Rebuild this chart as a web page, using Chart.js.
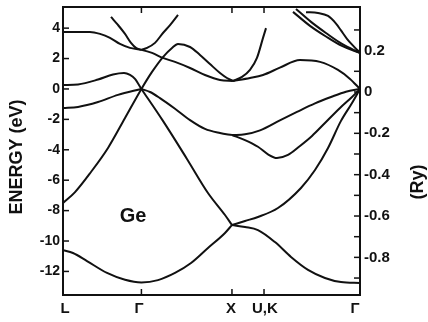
<!DOCTYPE html>
<html><head><meta charset="utf-8">
<script src="https://cdn.jsdelivr.net/npm/chart.js@4.4.0/dist/chart.umd.min.js"></script>
<style>html,body{margin:0;padding:0;background:#fff;}canvas{display:block;}</style>
</head><body>
<canvas id="c" width="428" height="322"></canvas>
<script>
// k-path (symmetry points) and labels
const kPoints = [0, 0.866, 1.866, 2.22, 3.28];
const kLabels = ['L', 'Γ', 'X', 'U,K', 'Γ'];
const kLabelPos = [0.022, 0.84, 1.855, 2.23, 3.225];
const eVTicks = [-12, -10, -8, -6, -4, -2, 0, 2, 4];
const ryLabelTicks = [-0.8, -0.6, -0.4, -0.2, 0, 0.2];
const ryMinorTicks = [-0.9, -0.7, -0.5, -0.3, -0.1, 0.1, 0.3];
const materialLabel = 'Ge';
const materialLabelPos = [0.773, -8.36];

// bands: [k, energy eV]
const bandLowLGX = [[0,-10.6],[0.110,-10.79],[0.265,-11.32],[0.486,-12.1],[0.685,-12.55],[0.866,-12.72],[1.049,-12.57],[1.237,-12.1],[1.414,-11.45],[1.601,-10.46],[1.789,-9.47],[1.866,-8.95]];
const bandLowXG = [[1.866,-8.95],[2.010,-9.08],[2.153,-9.28],[2.341,-10.07],[2.518,-11.05],[2.706,-11.9],[2.893,-12.43],[3.070,-12.7],[3.28,-12.76]];
const bandL1 = [[0,-7.5],[0.133,-6.78],[0.309,-5.46],[0.497,-3.88],[0.685,-1.91],[0.866,0],[0.983,1.12],[1.104,2.1],[1.204,2.7],[1.270,2.96],[1.403,2.76],[1.513,2.24],[1.623,1.64],[1.734,1.05],[1.811,0.72],[1.877,0.53]];
const bandL3up = [[0,3.75],[0.298,3.75],[0.409,3.62],[0.519,3.36],[0.629,2.96],[0.740,2.7],[0.866,2.57],[0.983,2.37],[1.104,2.04],[1.237,1.78],[1.403,1.38],[1.568,0.92],[1.734,0.59],[1.877,0.53]];
const bandL3v = [[0,-1.25],[0.166,-1.18],[0.387,-0.86],[0.607,-0.39],[0.866,0]];
const bandL1c = [[0,0.26],[0.166,0.3],[0.387,0.62],[0.552,0.95],[0.674,1.05],[0.740,0.92],[0.795,0.66],[0.866,0]];
const bandGXsteep = [[0.866,0],[1.104,-2.1],[1.369,-4.6],[1.601,-6.84],[1.789,-8.29],[1.866,-8.95]];
const bandGXheavy = [[0.866,0],[0.961,-0.2],[1.071,-0.6],[1.237,-1.3],[1.403,-2.05],[1.568,-2.63],[1.734,-2.9],[1.866,-3.03]];
const bandXGdirect = [[1.866,-3.03],[2.010,-2.98],[2.176,-2.72],[2.395,-2.06],[2.584,-1.51],[2.783,-0.95],[2.960,-0.53],[3.125,-0.18],[3.28,0]];
const bandXGdip = [[1.866,-3.03],[2.010,-3.36],[2.153,-3.8],[2.264,-4.3],[2.363,-4.54],[2.485,-4.34],[2.617,-3.75],[2.750,-3.09],[2.893,-2.24],[3.059,-1.25],[3.192,-0.53],[3.28,0]];
const bandXGupper = [[1.866,-8.95],[2.010,-8.68],[2.153,-8.42],[2.374,-7.83],[2.628,-6.51],[2.783,-5.33],[2.927,-3.88],[3.070,-2.1],[3.192,-0.92],[3.28,0]];
const bandXUc = [[1.877,0.53],[1.977,0.79],[2.065,1.25],[2.142,2.04],[2.209,3.36],[2.242,4.0]];
const bandXGc = [[1.877,0.53],[2.065,0.72],[2.209,0.92],[2.395,1.4],[2.617,1.9],[2.838,1.78],[3.037,1.25],[3.170,0.66],[3.28,0]];
const bandGcLeft = [[0.530,4.74],[0.607,4.21],[0.685,3.62],[0.751,3.03],[0.806,2.7],[0.866,2.57]];
const bandGcRight = [[0.866,2.57],[0.928,2.7],[1.016,3.03],[1.104,3.68],[1.182,4.2],[1.270,4.87]];
const bandKGa = [[2.573,5.26],[2.739,4.41],[2.904,3.68],[3.081,2.96],[3.28,2.37]];
const bandKGb = [[2.540,5.07],[2.728,4.15],[2.904,3.45],[3.081,2.83],[3.28,2.37]];
const bandKGc = [[2.684,5.05],[2.816,5.0],[2.927,4.8],[3.015,4.3],[3.070,3.85],[3.136,3.3],[3.203,2.85],[3.28,2.37]];

const bands = [bandLowLGX, bandLowXG, bandL1, bandL3up, bandL3v, bandL1c, bandGXsteep, bandGXheavy,
  bandXGdirect, bandXGdip, bandXGupper, bandXUc, bandXGc, bandGcLeft, bandGcRight, bandKGa, bandKGb, bandKGc];

const INK = '#111';
const FONT = 'Liberation Sans';

function zeroPad(s){ s.paddingLeft=0; s.paddingRight=0; s.paddingTop=0; s.paddingBottom=0; }

const decor = {
  id: 'decor',
  afterDatasetsDraw(chart) {
    const {ctx, chartArea: a, scales} = chart;
    const line = (x1,y1,x2,y2)=>{ctx.beginPath();ctx.moveTo(x1,y1);ctx.lineTo(x2,y2);ctx.stroke();};
    ctx.save();
    ctx.strokeStyle = INK;
    ctx.lineWidth = 2;
    ctx.strokeRect(a.left, a.top, a.right - a.left, a.bottom - a.top);
    ctx.lineWidth = 1.5;
    eVTicks.forEach(v => { const y = scales.y.getPixelForValue(v); line(a.left, y, a.left + 6, y); });
    ryLabelTicks.concat(ryMinorTicks).forEach(v => { const y = scales.y2.getPixelForValue(v); line(a.right - 6, y, a.right, y); });
    kPoints.slice(1, 4).forEach(v => { const x = scales.x.getPixelForValue(v); line(x, a.bottom, x, a.bottom - 6); line(x, a.top, x, a.top + 6); });
    ctx.fillStyle = INK;
    ctx.textAlign = 'center'; ctx.textBaseline = 'middle';
    ctx.font = 'bold 20px "' + FONT + '"';
    ctx.fillText(materialLabel, scales.x.getPixelForValue(materialLabelPos[0]), scales.y.getPixelForValue(materialLabelPos[1]));
    ctx.font = 'bold 18px "' + FONT + '"';
    ctx.save(); ctx.translate(17, 157); ctx.rotate(-Math.PI/2); ctx.fillText('ENERGY (eV)', 0, 0); ctx.restore();
    ctx.save(); ctx.translate(418, 182); ctx.rotate(-Math.PI/2); ctx.fillText('(Ry)', 0, 0); ctx.restore();
    ctx.restore();
  }
};

new Chart(document.getElementById('c'), {
  type: 'scatter',
  data: {
    datasets: bands.map(b => ({
      data: b.map(([x, y]) => ({x, y})),
      showLine: true,
      borderColor: INK,
      borderWidth: 2,
      pointRadius: 0,
      cubicInterpolationMode: 'monotone',
      yAxisID: 'y'
    }))
  },
  options: {
    responsive: false,
    animation: false,
    devicePixelRatio: 1,
    layout: { padding: { top: 7, left: 0, right: 0, bottom: 0 } },
    plugins: { legend: { display: false }, tooltip: { enabled: false } },
    scales: {
      x: {
        type: 'linear', position: 'bottom', min: 0, max: 3.28,
        grid: { display: false, drawTicks: false }, border: { display: false },
        ticks: { autoSkip: false, maxRotation: 0, padding: 5, color: INK,
          font: { family: FONT, size: 15, weight: 'bold' },
          callback: (v, i) => kLabels[i] },
        afterBuildTicks: s => { s.ticks = kLabelPos.map(v => ({ value: v })); },
        afterFit: s => { s.height = 27; zeroPad(s); }
      },
      y: {
        type: 'linear', position: 'left', min: -13.55, max: 5.39,
        grid: { display: false, drawTicks: false }, border: { display: false },
        ticks: { padding: 3, color: INK, font: { family: FONT, size: 14, weight: 'bold' } },
        afterBuildTicks: s => { s.ticks = eVTicks.map(v => ({ value: v })); },
        afterFit: s => { s.width = 63; zeroPad(s); }
      },
      y2: {
        type: 'linear', position: 'right', min: -0.982, max: 0.411,
        grid: { display: false, drawTicks: false }, border: { display: false },
        ticks: { padding: 4, color: INK, font: { family: FONT, size: 15, weight: 'bold' },
          callback: v => v === 0 ? '0' : v.toFixed(1) },
        afterBuildTicks: s => { s.ticks = ryLabelTicks.map(v => ({ value: v })); },
        afterFit: s => { s.width = 68; zeroPad(s); }
      }
    }
  },
  plugins: [decor]
});
</script>
</body></html>
